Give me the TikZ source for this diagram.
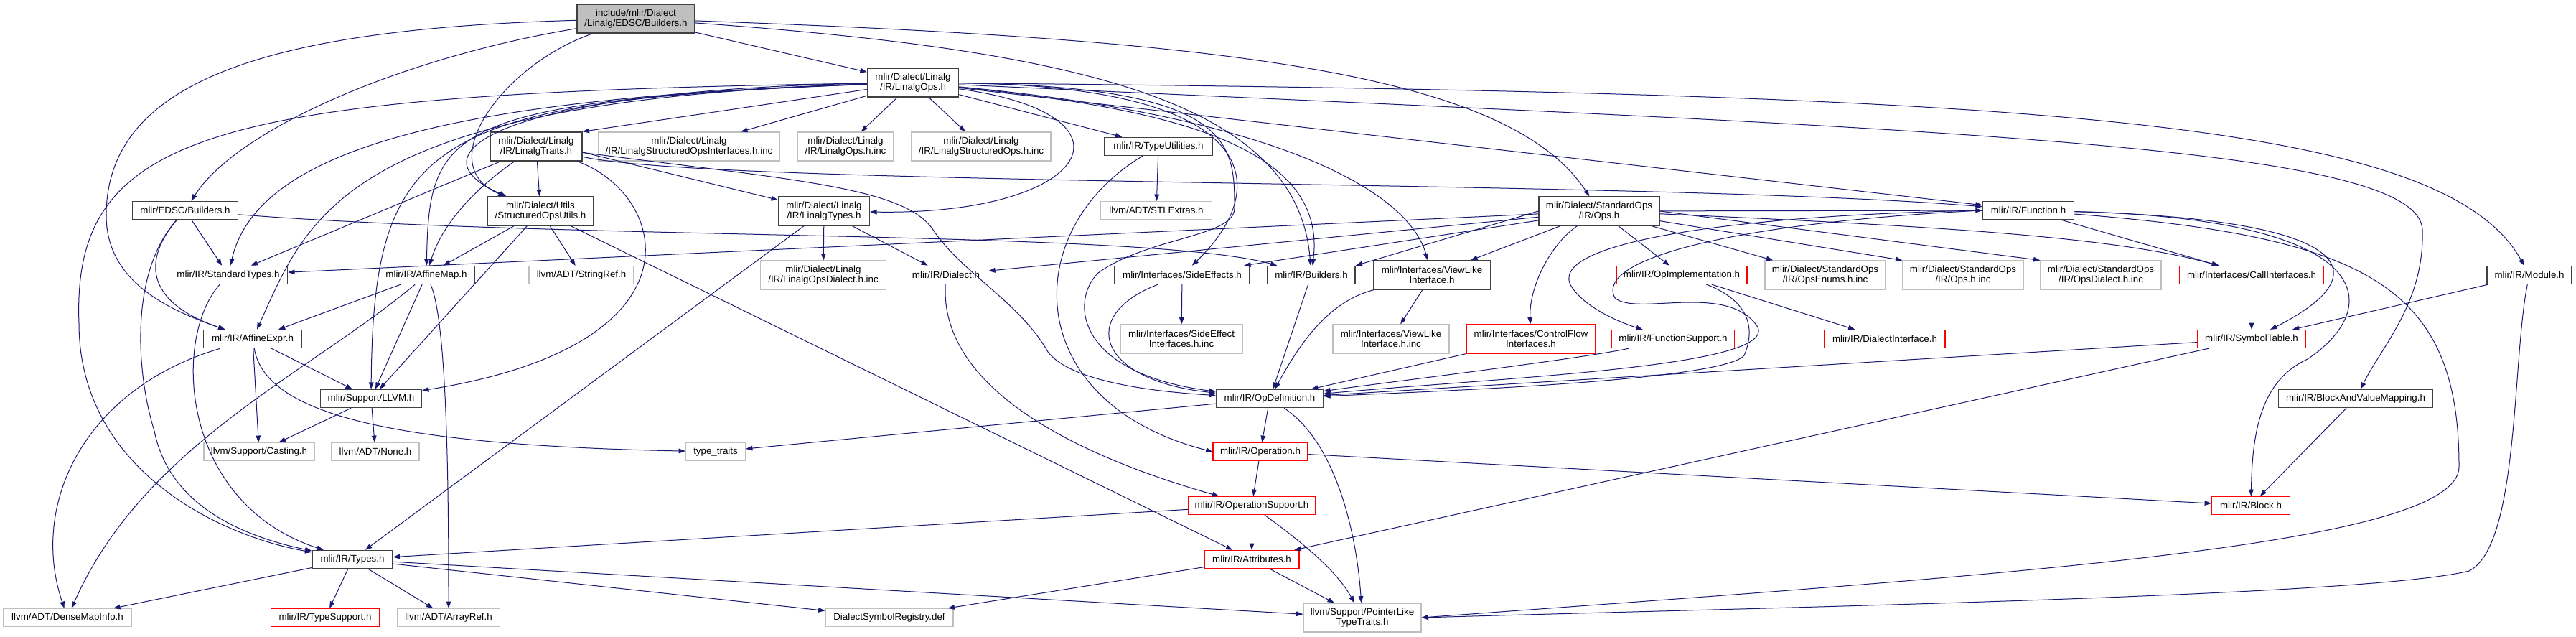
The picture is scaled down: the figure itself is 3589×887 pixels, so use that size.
\documentclass[tikz,border=0pt]{standalone}
\usepackage{fontspec}
\setmainfont{Liberation Sans}
\usetikzlibrary{arrows.meta}
\definecolor{edgeblue}{RGB}{25,25,112}
\definecolor{leafgray}{RGB}{191,191,191}
\definecolor{hdrgray}{RGB}{64,64,64}

\begin{document}
\begin{tikzpicture}[
  x=0.75pt,y=-0.75pt,
  font=\fontsize{10}{10.5}\selectfont,
  >={Triangle[length=7pt,width=5pt]},
  file/.style={rectangle,align=center,inner xsep=0pt,inner ysep=1pt,
               minimum height=18.75pt,minimum width=#1*0.75pt},
  hdr/.style={file=#1,draw=hdrgray,line width=1.1pt},
  leaf/.style={file=#1,draw=leafgray,line width=0.9pt},
  trunc/.style={file=#1,draw=red,line width=0.9pt},
  two/.style={minimum height=30pt},
  dep/.style={->,color=edgeblue,line width=0.75pt},
]
\fill[white] (0,0) rectangle (3589,887);
\useasboundingbox (0,0) rectangle (3589,887);
% ---------- the file itself ----------
\node[hdr=164,two,fill=leafgray] (root) at (886,26) {include/mlir/Dialect\\/Linalg/EDSC/Builders.h};
% ---------- rank 1-2: linalg ----------
\node[hdr=127,two] (lops) at (1272,115) {mlir/Dialect/Linalg\\/IR/LinalgOps.h};
\node[hdr=128,two] (ltraits) at (747,204) {mlir/Dialect/Linalg\\/IR/LinalgTraits.h};
\node[leaf=253,two] (lsoi) at (960,204) {mlir/Dialect/Linalg\\/IR/LinalgStructuredOpsInterfaces.h.inc};
\node[leaf=134,two] (lopsinc) at (1178,204) {mlir/Dialect/Linalg\\/IR/LinalgOps.h.inc};
\node[leaf=194,two] (lsops) at (1367,204) {mlir/Dialect/Linalg\\/IR/LinalgStructuredOps.h.inc};
\node[hdr=150] (tyutil) at (1614,204) {mlir/IR/TypeUtilities.h};
% ---------- rank 3 ----------
\node[hdr=147] (edsc) at (258,293) {mlir/EDSC/Builders.h};
\node[hdr=148,two] (souts) at (753,294) {mlir/Dialect/Utils\\/StructuredOpsUtils.h};
\node[hdr=127,two] (ltypes) at (1148,294) {mlir/Dialect/Linalg\\/IR/LinalgTypes.h};
\node[leaf=155] (stl) at (1611,293) {llvm/ADT/STLExtras.h};
\node[hdr=168,two] (stdops) at (2228,294) {mlir/Dialect/StandardOps\\/IR/Ops.h};
\node[hdr=127] (func) at (2826,293) {mlir/IR/Function.h};
% ---------- rank 4 ----------
\node[hdr=165] (stdtypes) at (318,383) {mlir/IR/StandardTypes.h};
\node[hdr=135] (amap) at (594,383) {mlir/IR/AffineMap.h};
\node[leaf=146] (strref) at (810,383) {llvm/ADT/StringRef.h};
\node[leaf=175,two] (lodinc) at (1147,383) {mlir/Dialect/Linalg\\/IR/LinalgOpsDialect.h.inc};
\node[hdr=117] (dialect) at (1318,383) {mlir/IR/Dialect.h};
\node[hdr=188] (sidefx) at (1647,383) {mlir/Interfaces/SideEffects.h};
\node[hdr=122] (irbld) at (1827,383) {mlir/IR/Builders.h};
\node[hdr=163,two] (viewlike) at (1995,383) {mlir/Interfaces/ViewLike\\Interface.h};
\node[trunc=182] (opimpl) at (2343,383) {mlir/IR/OpImplementation.h};
\node[leaf=168,two] (opsenums) at (2543,383) {mlir/Dialect/StandardOps\\/IR/OpsEnums.h.inc};
\node[leaf=168,two] (opsinc) at (2735,383) {mlir/Dialect/StandardOps\\/IR/Ops.h.inc};
\node[leaf=168,two] (opsdial) at (2927,383) {mlir/Dialect/StandardOps\\/IR/OpsDialect.h.inc};
\node[trunc=201] (callif) at (3137,383) {mlir/Interfaces/CallInterfaces.h};
\node[hdr=118] (module) at (3524,383) {mlir/IR/Module.h};
% ---------- rank 5 ----------
\node[hdr=137] (aexpr) at (352,472) {mlir/IR/AffineExpr.h};
\node[leaf=170,two] (sfxinc) at (1646,472) {mlir/Interfaces/SideEffect\\Interfaces.h.inc};
\node[leaf=162,two] (vlinc) at (1938,472) {mlir/Interfaces/ViewLike\\Interface.h.inc};
\node[trunc=179,two] (ctrlflow) at (2133,472) {mlir/Interfaces/ControlFlow\\Interfaces.h};
\node[trunc=171] (funcsup) at (2331,472) {mlir/IR/FunctionSupport.h};
\node[trunc=168] (dialif) at (2626,472) {mlir/IR/DialectInterface.h};
\node[trunc=151] (symtab) at (3137,472) {mlir/IR/SymbolTable.h};
% ---------- rank 6-8 ----------
\node[hdr=141] (llvmh) at (517,555) {mlir/Support/LLVM.h};
\node[hdr=149] (opdef) at (1769,555) {mlir/IR/OpDefinition.h};
\node[hdr=215] (bvm) at (3282,555) {mlir/IR/BlockAndValueMapping.h};
\node[leaf=154] (casting) at (361,629) {llvm/Support/Casting.h};
\node[leaf=122] (nonehdr) at (523,629) {llvm/ADT/None.h};
\node[leaf=83] (ttraits) at (997,629) {type\_traits};
\node[trunc=132] (oper) at (1756,629) {mlir/IR/Operation.h};
\node[trunc=177] (opsup) at (1744,704) {mlir/IR/OperationSupport.h};
\node[trunc=109] (block) at (3136,704) {mlir/IR/Block.h};
% ---------- rank 9-10 ----------
\node[hdr=112] (types) at (491,779) {mlir/IR/Types.h};
\node[trunc=132] (attrs) at (1744,779) {mlir/IR/Attributes.h};
\node[leaf=178] (dmi) at (94,860) {llvm/ADT/DenseMapInfo.h};
\node[trunc=151] (tysup) at (453,860) {mlir/IR/TypeSupport.h};
\node[leaf=143] (aref) at (625,860) {llvm/ADT/ArrayRef.h};
\node[leaf=178] (dsr) at (1239,860) {DialectSymbolRegistry.def};
\node[leaf=164,two] (ptrlike) at (1898,860) {llvm/Support/PointerLike\\TypeTraits.h};

% =================== edges ===================
% ---------- root ----------
\draw[dep] (root) -- (lops);
\draw[dep] (root) .. controls (700,90) and (600,230) .. (souts);
\draw[dep] (root) .. controls (560,80) and (330,180) .. (edsc);
\draw[dep] (root) .. controls (380,40) and (148,110) .. (148,300)
                  .. controls (148,390) and (230,430) .. (aexpr);
\draw[dep] (root) .. controls (1500,70) and (1808,140) .. (irbld);
\draw[dep] (root) .. controls (1700,55) and (2100,100) .. (stdops);
% ---------- LinalgOps.h ----------
\draw[dep] (lops) -- (ltraits.north east);
\foreach \n in {lsoi,lopsinc,lsops,tyutil,func}{\draw[dep] (lops) -- (\n);}
\draw[dep] (lops) .. controls (1600,160) and (1520,300) .. (ltypes);
\draw[dep] (lops) .. controls (720,125) and (560,210) .. (souts);
\draw[dep] (lops) .. controls (660,135) and (360,200) .. (stdtypes);
\draw[dep] (lops) .. controls (620,140) and (598,180) .. (amap);
\draw[dep] (lops) .. controls (480,140) and (430,300) .. (aexpr);
\draw[dep] (lops) .. controls (600,140) and (520,190) .. (llvmh);
\draw[dep] (lops) .. controls (300,130) and (100,180) .. (110,450)
                  .. controls (110,650) and (300,745) .. (types);
\draw[dep] (lops) .. controls (1620,150) and (1850,200) .. (irbld);
\draw[dep] (lops) .. controls (1760,120) and (1775,260) .. (sidefx);
\draw[dep] (lops) .. controls (1720,120) and (1720,200) .. (1720,290)
                  .. controls (1720,330) and (1600,330) .. (1530,380)
                  .. controls (1490,420) and (1500,520) .. (opdef);
\draw[dep] (lops) .. controls (1760,160) and (1960,260) .. (viewlike);
\draw[dep] (lops) .. controls (2800,130) and (3400,160) .. (module);
\draw[dep] (lops) .. controls (2700,180) and (3370,200) .. (3375,320)
                  .. controls (3378,420) and (3320,480) .. (bvm);
% ---------- LinalgTraits.h ----------
\draw[dep] (ltraits) -- (souts);
\draw[dep] (ltraits) -- (stdtypes);
\draw[dep] (ltraits) .. controls (680,250) and (620,300) .. (amap);
\draw[dep] (ltraits) .. controls (930,270) and (990,480) .. (llvmh);
\draw[dep] ([yshift=-6pt]ltraits.east) -- (ltypes);
\draw[dep] (ltraits) .. controls (1000,260) and (2300,250) .. (func);
\draw[dep] (ltraits) .. controls (1100,250) and (1260,260) .. (1300,320)
                     .. controls (1340,380) and (1420,420) .. (1460,490)
                     .. controls (1490,530) and (1600,545) .. (opdef);
% ---------- StructuredOpsUtils.h ----------
\foreach \n in {amap,llvmh,strref,attrs}{\draw[dep] (souts) -- (\n);}
% ---------- EDSC/Builders.h ----------
\draw[dep] (edsc) -- (stdtypes);
\draw[dep] (edsc) .. controls (200,360) and (200,420) .. (aexpr);
\draw[dep] (edsc) .. controls (180,380) and (190,520) .. (215,600)
                  .. controls (235,700) and (330,745) .. (types);
\draw[dep] (edsc) .. controls (800,335) and (1600,320) .. (irbld);
% ---------- LinalgTypes.h ----------
\foreach \n in {lodinc,dialect,types}{\draw[dep] (ltypes) -- (\n);}
% ---------- StandardOps/IR/Ops.h ----------
\foreach \n in {stdtypes,dialect,sidefx,viewlike,opimpl,opsenums,func}{\draw[dep] (stdops) -- (\n);}
\draw[dep] (stdops.west) -- (irbld.north east);
\draw[dep] (stdops) -- (opsinc.north west);
\draw[dep] (stdops.east) -- (opsdial.north west);
\draw[dep] (stdops) .. controls (2700,315) and (2950,330) .. (callif);
\draw[dep] (stdops) .. controls (2160,340) and (2130,400) .. (ctrlflow);
% ---------- TypeUtilities.h ----------
\draw[dep] (tyutil) -- (stl);
\draw[dep] (tyutil) .. controls (1420,320) and (1420,560) .. (oper.west);
% ---------- middle rank ----------
\draw[dep] (dialect) .. controls (1310,520) and (1450,620) .. (opsup);
\draw[dep] (irbld) -- (opdef);
\draw[dep] (sidefx) -- (sfxinc);
\draw[dep] (sidefx) .. controls (1500,440) and (1530,530) .. (opdef);
\draw[dep] (viewlike) -- (vlinc);
\draw[dep] (viewlike) .. controls (1850,420) and (1810,480) .. (opdef);
\draw[dep] (ctrlflow) -- (opdef);
\draw[dep] (funcsup) .. controls (2200,500) and (1950,530) .. (opdef);
\draw[dep] (opimpl) -- (dialif);
\draw[dep] (opimpl) .. controls (2440,420) and (2445,460) .. (2430,495)
                    .. controls (2400,530) and (2000,545) .. (opdef);
% ---------- Function.h ----------
\draw[dep] (func) -- (callif);
\draw[dep] (func) .. controls (3280,305) and (3320,380) .. (symtab);
\draw[dep] (func) .. controls (3320,305) and (3320,430) .. (3215,500)
                  .. controls (3150,530) and (3138,600) .. (block);
\draw[dep] (func) .. controls (3300,330) and (3426,400) .. (3426,650)
                  .. controls (3426,760) and (2800,800) .. (ptrlike.east);
\draw[dep] (func.west) .. controls (2400,300) and (2150,340) .. (2190,400)
                       .. controls (2210,430) and (2260,450) .. (funcsup);
\draw[dep] (func.west) .. controls (2420,310) and (2220,360) .. (2250,415)
                       .. controls (2280,440) and (2400,395) .. (2445,450)
                       .. controls (2500,510) and (2100,525) .. (opdef);
% ---------- right-hand headers ----------
\draw[dep] (callif) -- (symtab);
\draw[dep] (module) -- (symtab);
\draw[dep] (module) .. controls (3500,500) and (3510,760) .. (3440,795)
                    .. controls (3300,830) and (2500,845) .. (ptrlike.east);
\draw[dep] (symtab) -- (opdef);
\draw[dep] (symtab) -- (attrs);
\draw[dep] (bvm) -- (block);
% ---------- OpDefinition.h and below ----------
\draw[dep] (opdef) -- (oper);
\draw[dep] (opdef) -- (ttraits);
\draw[dep] (opdef) .. controls (1860,615) and (1890,740) .. (ptrlike);
\draw[dep] (oper) -- (opsup);
\draw[dep] (oper) -- (block);
\draw[dep] (opsup) -- (attrs);
\draw[dep] (opsup) -- (types);
\draw[dep] (opsup) .. controls (1800,745) and (1860,790) .. (ptrlike);
\draw[dep] (attrs) -- (dsr);
\draw[dep] (attrs) -- (ptrlike);
% ---------- affine and support ----------
\draw[dep] (stdtypes) .. controls (240,470) and (250,700) .. (types);
\draw[dep] (amap) -- (aexpr);
\draw[dep] (amap) -- (llvmh);
\draw[dep] (amap) .. controls (430,520) and (200,620) .. (dmi);
\draw[dep] (amap) .. controls (624,450) and (625,700) .. (aref);
\draw[dep] (aexpr) -- (llvmh);
\draw[dep] (aexpr) -- (casting);
\draw[dep] (aexpr) .. controls (120,540) and (40,700) .. (dmi);
\draw[dep] (aexpr) .. controls (370,580) and (560,620) .. (ttraits);
\draw[dep] (llvmh) -- (casting);
\draw[dep] (llvmh) -- (nonehdr);
\foreach \n in {dmi,tysup,aref,dsr,ptrlike}{\draw[dep] (types) -- (\n);}
\end{tikzpicture}
\end{document}
